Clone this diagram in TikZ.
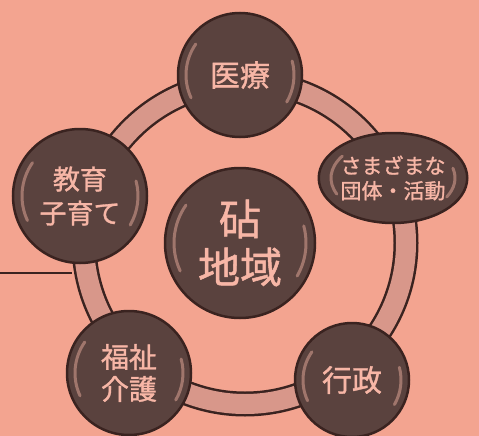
\documentclass[tikz,border=0pt]{standalone}
\usepackage{fontspec}
\newfontfamily\jpfont[FakeBold=1.2]{Noto Sans CJK JP}
\usepackage{tikz}
\usetikzlibrary{calc}
\usetikzlibrary{shapes.geometric}
\definecolor{paper}{HTML}{F3A490}
\definecolor{bubblefill}{HTML}{5A423E}
\definecolor{bubbleline}{HTML}{3A2320}
\definecolor{ringfill}{HTML}{D8978A}
\definecolor{letter}{HTML}{F7B6A6}
\newcommand{\bubble}[6]{\node(#1)[bubble,minimum size=#3pt,font=\jpfont\fontsize{#4}{#5}\selectfont] at (#2){#6}}
\newcommand{\shine}[3]{%
  \draw[shine] (#1.center) ++(145:#2pt and #3pt) arc[start angle=145,end angle=205,x radius=#2pt,y radius=#3pt];
  \draw[shine] (#1.center) ++(-30:#2pt and #3pt) arc[start angle=-30,end angle=15,x radius=#2pt,y radius=#3pt]}

\begin{document}
\begin{tikzpicture}[
        x=1pt,y=1pt,
        every node/.style={text=letter,align=center},
        bubble/.style={circle,inner sep=0pt,fill=bubblefill,draw=bubbleline,line width=2.5pt},
        oval/.style={ellipse,inner sep=0pt,fill=bubblefill,draw=bubbleline,line width=2.5pt},
        shine/.style={line width=3pt,line cap=round,draw=letter,opacity=0.45},
        ringedge/.style={line width=25pt,draw=bubbleline},
        ringband/.style={line width=20pt,draw=ringfill},
        leader/.style={line width=2pt,draw=bubbleline}
      ]
      \useasboundingbox[fill=paper] (0,0) rectangle (479,-436);
      % ring behind the bubbles
      \coordinate (ring) at (245,-243);
      \draw[ringedge] (ring) circle[radius=161pt];
      \draw[ringband] (ring) circle[radius=161pt];
      \coordinate (lineend) at (0,-273);
      \coordinate (ringleft) at (72,-273);
      \draw[leader] (lineend) -- (ringleft);
      % bubbles
      \bubble{iryo}{240,-75}{124}{30}{34}{医療};
      \bubble{kyoiku}{80,-196}{134}{27}{34}{教育\\子育て};
      \bubble{fukushi}{129,-373}{124}{28}{32}{福祉\\介護};
      \bubble{gyosei}{352,-380}{114}{30}{34}{行政};
      \bubble{kinuta}{240,-243}{150}{42}{48}{砧\\地域};
      \node(dantai)[oval,minimum width=142pt,minimum height=90pt,
        font=\jpfont\fontsize{21}{25}\selectfont] at (393,-178) {さまざまな\\団体・活動};
      \shine{iryo}{54}{54};
      \shine{kyoiku}{58}{58};
      \shine{fukushi}{54}{54};
      \shine{gyosei}{49}{49};
      \shine{kinuta}{66}{66};
      \shine{dantai}{62}{38};
\end{tikzpicture}
\end{document}
